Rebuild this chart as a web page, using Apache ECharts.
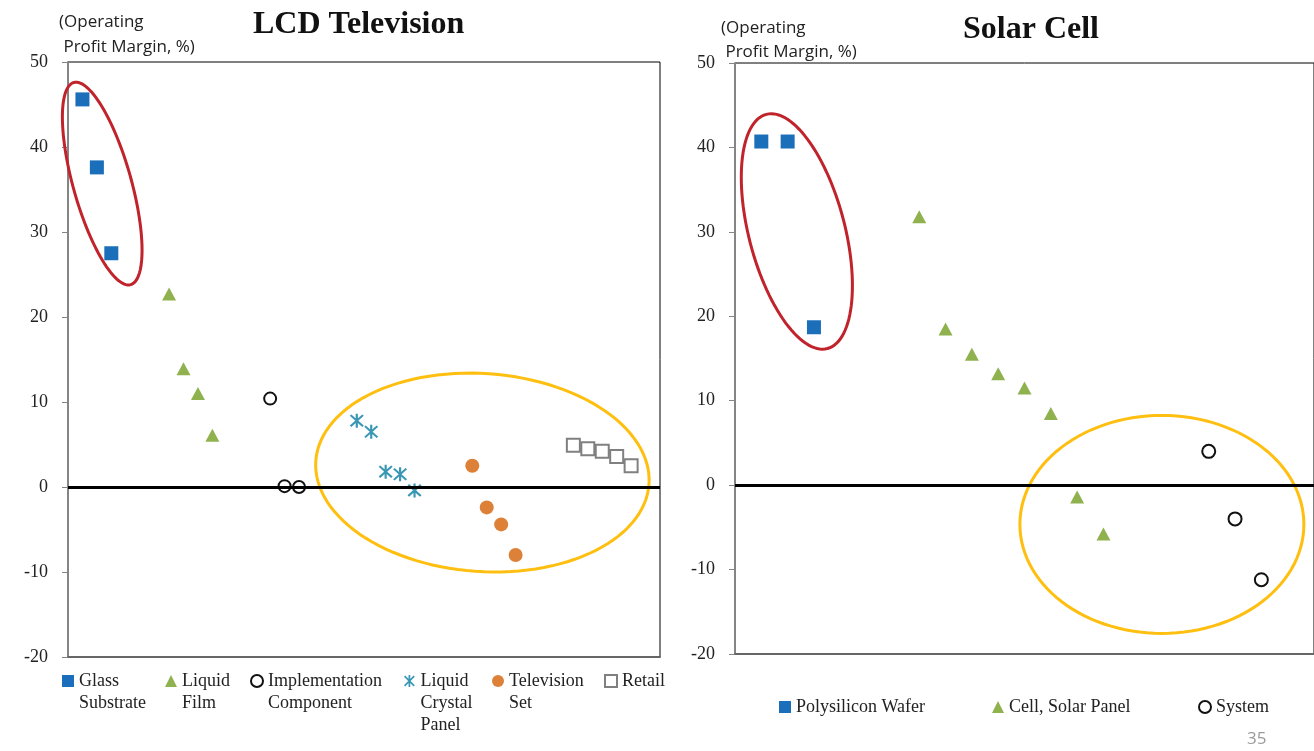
<!DOCTYPE html>
<html lang="en" style="height: 100%">
<head>
    <meta charset="utf-8">
    <script src="https://cdn.jsdelivr.net/npm/echarts@6/dist/echarts.min.js"></script>
    <title>Operating Profit Margin</title>
</head>
<body style="height: 100%; margin: 0; background: #fff">
<div id="container" style="height: 100%; width: 100%"></div>

<script type="text/javascript">
    // LCD Television: [position along the value chain, operating profit margin %]
    var lcdGlass = [[1, 45.6], [2, 37.6], [3, 27.5]];
    var lcdFilm = [[7, 22.7], [8, 13.9], [9, 11.0], [10, 6.1]];
    var lcdImpl = [[14, 10.4], [15, 0.1], [16, 0.0]];
    var lcdPanel = [[20, 7.8], [21, 6.5], [22, 1.8], [23, 1.5], [24, -0.4]];
    var lcdTv = [[28, 2.5], [29, -2.4], [30, -4.4], [31, -8.0]];
    var lcdRetail = [[35, 4.9], [36, 4.5], [37, 4.2], [38, 3.6], [39, 2.5]];

    // Solar Cell
    var solarWafer = [[1, 40.7], [2, 40.7], [3, 18.7]];
    var solarPanel = [[7, 31.8], [8, 18.5], [9, 15.5], [10, 13.2], [11, 11.5], [12, 8.5], [13, -1.4], [14, -5.8]];
    var solarSystem = [[18, 4.0], [19, -4.0], [20, -11.2]];

    var lcdNames = ['Glass\nSubstrate', 'Liquid\nFilm', 'Implementation\nComponent',
        'Liquid\nCrystal\nPanel', 'Television\nSet', 'Retail'];
    var solarNames = ['Polysilicon Wafer', 'Cell, Solar Panel', 'System'];

    // highlight rings, centres in data units
    var lcdRingCenters = [[2.37, 35.7], [28.7, 1.7]];
    var solarRingCenters = [[2.35, 30.05], [16.22, -4.65]];

    var yTicks = { min: -20, max: 50, interval: 10 };

    var ringLook = {
        lcd: [
            { rx: 105, ry: 29, angle: 74.3, color: '#c0232b' },
            { rx: 167, ry: 99, angle: 4, color: '#ffbf10' }
        ],
        solar: [
            { rx: 121, ry: 48, angle: 75.4, color: '#c0232b' },
            { rx: 142, ry: 109, angle: 0, color: '#ffbf10' }
        ]
    };

    var serif = 'Liberation Serif';
    var starPath = 'path://M8.6 0L11.4 0L11.4 20L8.6 20Z M1 3L3 1L19 17L17 19Z M17 1L19 3L3 19L1 17Z';

    var dom = document.getElementById('container');
    var myChart = echarts.init(dom, null, { renderer: 'canvas' });

    function ringSeries(axisIdx, centers, looks) {
        return {
            type: 'custom',
            xAxisIndex: axisIdx,
            yAxisIndex: axisIdx,
            silent: true,
            clip: false,
            z: 1,
            data: centers,
            renderItem: function (params, api) {
                var c = api.coord([api.value(0), api.value(1)]);
                var s = looks[params.dataIndex];
                var phi = s.angle * Math.PI / 180;
                var pts = [];
                for (var k = 0; k < 120; k++) {
                    var t = k / 120 * 2 * Math.PI;
                    var ex = s.rx * Math.cos(t), ey = s.ry * Math.sin(t);
                    pts.push([c[0] + ex * Math.cos(phi) - ey * Math.sin(phi),
                              c[1] + ex * Math.sin(phi) + ey * Math.cos(phi)]);
                }
                return {
                    type: 'polygon',
                    shape: { points: pts },
                    style: { fill: 'none', stroke: s.color, lineWidth: 3 }
                };
            }
        };
    }

    function yAxisFor(idx) {
        return {
            type: 'value',
            gridIndex: idx,
            min: yTicks.min,
            max: yTicks.max,
            interval: yTicks.interval,
            axisLine: { show: true, lineStyle: { color: '#858585', width: 2 } },
            axisTick: { show: true, length: 6, lineStyle: { color: '#858585', width: 1 } },
            axisLabel: { margin: 20, fontFamily: serif, fontSize: 18, color: '#222' },
            splitLine: { show: false }
        };
    }

    function xAxisFor(idx, max) {
        return {
            type: 'value',
            gridIndex: idx,
            min: 0,
            max: max,
            axisLine: { show: true, onZero: false, lineStyle: { color: '#666', width: 2 } },
            axisTick: { show: false },
            axisLabel: { show: false },
            splitLine: { show: false }
        };
    }

    function zeroLine() {
        return {
            silent: true,
            symbol: 'none',
            label: { show: false },
            lineStyle: { color: '#000', width: 3, type: 'solid' },
            data: [{ yAxis: 0 }]
        };
    }

    function legendFor(name, left, centerY) {
        var lines = name.split('\n').length;
        return {
            data: [name],
            left: left,
            top: centerY - (2 * lines - 1) * 11,
            padding: 0,
            itemWidth: 12,
            itemHeight: 12,
            itemGap: 0,
            textStyle: { fontFamily: serif, fontSize: 18, lineHeight: 22, color: '#222' },
            formatter: function (n) {
                return new Array(lines).join('\n') + n;
            }
        };
    }

    var lcdLegendX = [62, 165, 250, 404, 492, 604];
    var solarLegendX = [779, 992, 1198];

    var legends = [];
    lcdNames.forEach(function (n, i) { legends.push(legendFor(n, lcdLegendX[i], 681)); });
    solarNames.forEach(function (n, i) { legends.push(legendFor(n, solarLegendX[i], 707)); });

    var option = {
        backgroundColor: '#fff',
        animation: false,
        title: [
            { text: 'LCD Television', left: 253, top: 9, padding: 0,
              textStyle: { fontFamily: serif, fontWeight: 'bold', fontSize: 32, color: '#111' } },
            { text: 'Solar Cell', left: 963, top: 14, padding: 0,
              textStyle: { fontFamily: serif, fontWeight: 'bold', fontSize: 32, color: '#111' } },
            { text: '(Operating\n Profit Margin, %)', left: 59, top: 10, padding: 0,
              textStyle: { fontFamily: 'Open Sans', fontWeight: 'normal', fontSize: 17, lineHeight: 25, color: '#222' } },
            { text: '(Operating\n Profit Margin, %)', left: 721, top: 16, padding: 0,
              textStyle: { fontFamily: 'Open Sans', fontWeight: 'normal', fontSize: 17, lineHeight: 24, color: '#222' } },
            { text: '35', left: 1247, top: 731, padding: 0,
              textStyle: { fontFamily: 'Open Sans', fontWeight: 'normal', fontSize: 17, color: '#9a9a9a' } }
        ],
        legend: legends,
        grid: [
            { left: 68, top: 62, width: 592, height: 595, show: true, borderColor: '#000', borderWidth: 1 },
            { left: 735, top: 63, width: 583, height: 591, show: true, borderColor: '#000', borderWidth: 1 }
        ],
        xAxis: [xAxisFor(0, 41), xAxisFor(1, 22)],
        yAxis: [yAxisFor(0), yAxisFor(1)],
        series: [
            { name: lcdNames[0], type: 'scatter', xAxisIndex: 0, yAxisIndex: 0, data: lcdGlass,
              symbol: 'rect', symbolSize: 14, itemStyle: { color: '#1b6eb9', opacity: 1 },
              markLine: zeroLine(), z: 3 },
            { name: lcdNames[1], type: 'scatter', xAxisIndex: 0, yAxisIndex: 0, data: lcdFilm,
              symbol: 'triangle', symbolSize: [14, 13], itemStyle: { color: '#8fb24f', opacity: 1 }, z: 3 },
            { name: lcdNames[2], type: 'scatter', xAxisIndex: 0, yAxisIndex: 0, data: lcdImpl,
              symbol: 'emptyCircle', symbolSize: 12, itemStyle: { color: '#111', borderWidth: 1.5, opacity: 1 }, z: 3 },
            { name: lcdNames[3], type: 'scatter', xAxisIndex: 0, yAxisIndex: 0, data: lcdPanel,
              symbol: starPath, symbolSize: 14, itemStyle: { color: '#3a97b4', opacity: 1 }, z: 3 },
            { name: lcdNames[4], type: 'scatter', xAxisIndex: 0, yAxisIndex: 0, data: lcdTv,
              symbol: 'circle', symbolSize: 14, itemStyle: { color: '#dd8138', opacity: 1 }, z: 3 },
            { name: lcdNames[5], type: 'scatter', xAxisIndex: 0, yAxisIndex: 0, data: lcdRetail,
              symbol: 'emptyRect', symbolSize: 13, itemStyle: { color: '#808080', borderWidth: 2, opacity: 1 }, z: 3 },

            { name: solarNames[0], type: 'scatter', xAxisIndex: 1, yAxisIndex: 1, data: solarWafer,
              symbol: 'rect', symbolSize: 14, itemStyle: { color: '#1b6eb9', opacity: 1 },
              markLine: zeroLine(), z: 3 },
            { name: solarNames[1], type: 'scatter', xAxisIndex: 1, yAxisIndex: 1, data: solarPanel,
              symbol: 'triangle', symbolSize: [14, 13], itemStyle: { color: '#8fb24f', opacity: 1 }, z: 3 },
            { name: solarNames[2], type: 'scatter', xAxisIndex: 1, yAxisIndex: 1, data: solarSystem,
              symbol: 'emptyCircle', symbolSize: 13, itemStyle: { color: '#111', borderWidth: 1.5, opacity: 1 }, z: 3 },

            ringSeries(0, lcdRingCenters, ringLook.lcd),
            ringSeries(1, solarRingCenters, ringLook.solar)
        ]
    };

    myChart.setOption(option);
    window.addEventListener('resize', myChart.resize);
</script>
</body>
</html>
